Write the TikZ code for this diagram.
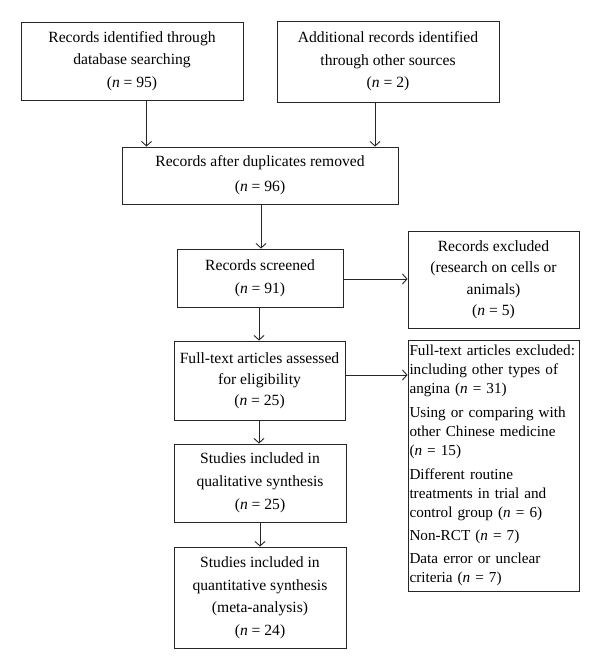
\documentclass[tikz,border=0pt]{standalone}
\usepackage{fontspec}
\setmainfont{Liberation Serif}
\usetikzlibrary{arrows.meta}
\tikzset{
  box/.style={draw=black!85, line width=0.9pt, inner sep=2pt, align=center,
    font=\fontsize{15.6}{22.5}\selectfont},
  arr/.style={draw=black!85, line width=0.9pt, -{Straight Barb[length=4.5pt,width=10pt,line width=0.9pt]}},
}
\newcommand{\nn}[1]{(\textit{n} = #1)}
\hyphenpenalty=10000
\hbadness=10000
\begin{document}
\begin{tikzpicture}[x=1pt,y=-1pt]
\useasboundingbox (0,0) rectangle (600,669);
\node[box, minimum width=222pt, minimum height=78pt] (A) at (132,61)
  {Records identified through\\database searching\\\nn{95}};
\node[box, minimum width=222pt, minimum height=81pt] (B) at (388,61.5)
  {Additional records identified\\through other sources\\\nn{2}};
\node[box, minimum width=276pt, minimum height=57pt, font=\fontsize{15.6}{25}\selectfont] (C) at (260,175.5)
  {Records after duplicates removed\\\nn{96}};
\node[box, minimum width=166pt, minimum height=58pt] (D) at (260,278)
  {Records screened\\\nn{91}};
\node[box, minimum width=171pt, minimum height=97pt, font=\fontsize{15.6}{21.5}\selectfont] (E) at (493.5,279.5)
  {Records excluded\\(research on cells or\\animals)\\\nn{5}};
\node[box, minimum width=171pt, minimum height=79pt, font=\fontsize{15.6}{21}\selectfont] (F) at (259.5,380.5)
  {Full-text articles assessed\\for eligibility\\\nn{25}};
\node[box, minimum width=171pt, minimum height=251pt, inner sep=1.5pt, align=left, text width=168pt,
  font=\fontsize{15.2}{19}\selectfont] (G) at (493.5,465.5)
  {Full-text articles excluded:\\including other types of\\angina \nn{31}\\[5pt]
   Using or comparing with\\other Chinese medicine\\\nn{15}\\[5pt]
   Different routine\\treatments in trial and\\control group \nn{6}\\[4pt]
   Non-RCT \nn{7}\\[4pt]
   Data error or unclear\\criteria \nn{7}};
\node[box, minimum width=172pt, minimum height=78pt, font=\fontsize{15.6}{23}\selectfont] (H) at (260,483)
  {Studies included in\\qualitative synthesis\\\nn{25}};
\node[box, minimum width=172pt, minimum height=101pt, font=\fontsize{15.6}{22.5}\selectfont] (I) at (260,597.5)
  {Studies included in\\quantitative synthesis\\(meta-analysis)\\\nn{24}};
\draw[arr] ([xshift=14.5pt]A.south) -- ([xshift=14.5pt]A.south |- C.north);
\draw[arr] ([xshift=-13pt]B.south) -- ([xshift=-13pt]B.south |- C.north);
\draw[arr] ([xshift=1pt]C.south) -- ([xshift=1pt]C.south |- D.north);
\draw[arr] ([yshift=-1pt]D.east) -- ([yshift=-1pt]D.east -| E.west);
\draw[arr] ([xshift=-1pt]D.south) -- ([xshift=-1pt]D.south |- F.north);
\draw[arr] ([yshift=5.5pt]F.east) -- ([yshift=5.5pt]F.east -| G.west);
\draw[arr] ([xshift=-0.5pt]F.south) -- ([xshift=-0.5pt]F.south |- H.north);
\draw[arr] (H.south) -- (H.south |- I.north);
\end{tikzpicture}
\end{document}
